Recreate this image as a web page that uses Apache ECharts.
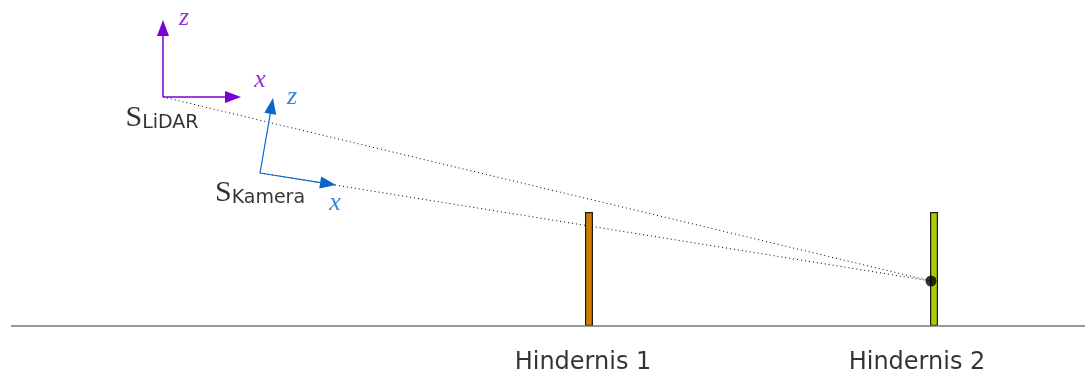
<!DOCTYPE html>
<html>
<head>
<meta charset="utf-8">
<script src="https://cdn.jsdelivr.net/npm/echarts@6/dist/echarts.min.js"></script>
<style>
html,body{margin:0;padding:0;background:#fff;}
#c{width:1085px;height:378px;}
</style>
</head>
<body>
<div id="c"></div>
<script>
// Scene coordinates: x to the right, y = height above the ground
const ground = [[11, 0], [1085, 0]];
const lidarOrigin = [163, 229];
const cameraOrigin = [260, 153];
const target = [931, 45];
const obstacles = [[589, 114], [934, 114]];
const obstacleNames = ['Hindernis 1', 'Hindernis 2'];
const obstacleLabelPos = [[583, -37], [917, -37]];
// axis arrows: [x0, y0, x1, y1]
const lidarAxes = [[163, 229, 241, 229], [163, 229, 163, 306]];
const cameraAxes = [[260, 153, 336, 141], [260, 153, 273, 228]];
const lidarAxisLabels = [[260, 246, 'x'], [184, 308, 'z']];
const cameraAxisLabels = [[335, 123, 'x'], [292, 229, 'z']];
const frameLabels = [[162, 208, 'LiDAR'], [260, 133, 'Kamera']];

const PURPLE = '#7a00d2';
const BLUE = '#0a66cc';
const obstacleColors = ['#d07e00', '#a9cc00'];

function arrowRenderer(color, width) {
  return function (params, api) {
    const p0 = api.coord([api.value(0), api.value(1)]);
    const p1 = api.coord([api.value(2), api.value(3)]);
    const dx = p1[0] - p0[0], dy = p1[1] - p0[1];
    const len = Math.hypot(dx, dy);
    const ux = dx / len, uy = dy / len;
    const hl = 16, hw = 6;
    const b = [p1[0] - ux * hl, p1[1] - uy * hl];
    return {
      type: 'group',
      children: [
        { type: 'line', shape: { x1: p0[0], y1: p0[1], x2: b[0] + ux * 2, y2: b[1] + uy * 2 },
          style: { stroke: color, lineWidth: width } },
        { type: 'polygon',
          shape: { points: [p1, [b[0] - uy * hw, b[1] + ux * hw], [b[0] + uy * hw, b[1] - ux * hw]] },
          style: { fill: color } }
      ]
    };
  };
}

const chart = echarts.init(document.getElementById('c'), null, { renderer: 'canvas' });
chart.setOption({
  animation: false,
  grid: { left: 0, right: 0, top: 0, bottom: 0 },
  xAxis: { type: 'value', min: 0, max: 1085, show: false },
  yAxis: { type: 'value', min: -52, max: 326, show: false },
  series: [
    { type: 'line', data: [lidarOrigin, target], showSymbol: false, silent: true, z: 1,
      lineStyle: { color: '#000', width: 1, type: [1, 3] } },
    { type: 'line', data: [cameraOrigin, target], showSymbol: false, silent: true, z: 1,
      lineStyle: { color: '#000', width: 1, type: [1, 3] } },
    { type: 'bar', barWidth: 8, z: 2,
      data: obstacles.map((o, i) => ({ value: o, itemStyle: { color: obstacleColors[i], borderColor: '#1a1a1a', borderWidth: 1.2 } })) },
    { type: 'line', data: ground, showSymbol: false, silent: true, z: 3,
      lineStyle: { color: '#777', width: 1.6 } },
    { type: 'scatter', data: [target], symbolSize: 11, itemStyle: { color: '#000' }, z: 4 },
    { type: 'custom', data: lidarAxes, renderItem: arrowRenderer(PURPLE, 1.5), z: 5 },
    { type: 'custom', data: cameraAxes, renderItem: arrowRenderer(BLUE, 1.2), z: 5 },
    { type: 'scatter', symbolSize: 0, z: 6,
      data: lidarAxisLabels.map(d => ({ value: [d[0], d[1]], name: d[2] })),
      label: { show: true, position: 'inside', formatter: '{b}', color: PURPLE,
        fontFamily: 'Liberation Serif', fontStyle: 'italic', fontSize: 26, align: 'center', verticalAlign: 'middle' } },
    { type: 'scatter', symbolSize: 0, z: 6,
      data: cameraAxisLabels.map(d => ({ value: [d[0], d[1]], name: d[2] })),
      label: { show: true, position: 'inside', formatter: '{b}', color: BLUE,
        fontFamily: 'Liberation Serif', fontStyle: 'italic', fontSize: 26, align: 'center', verticalAlign: 'middle' } },
    { type: 'scatter', symbolSize: 0, z: 6,
      data: frameLabels.map(d => ({ value: [d[0], d[1]], name: d[2] })),
      label: { show: true, position: 'inside', formatter: '{s|S}{sub|{b}}', align: 'center', verticalAlign: 'middle',
        rich: {
          s: { fontFamily: 'Liberation Serif', fontSize: 30, color: '#000', verticalAlign: 'bottom' },
          sub: { fontFamily: 'DejaVu Sans', fontSize: 19, color: '#000', verticalAlign: 'bottom' }
        } } },
    { type: 'scatter', symbolSize: 0, z: 6,
      data: obstacleLabelPos.map((p, i) => ({ value: p, name: obstacleNames[i] })),
      label: { show: true, position: 'inside', formatter: '{b}', color: '#000',
        fontFamily: 'DejaVu Sans', fontSize: 24, align: 'center', verticalAlign: 'middle' } }
  ]
});
</script>
</body>
</html>
